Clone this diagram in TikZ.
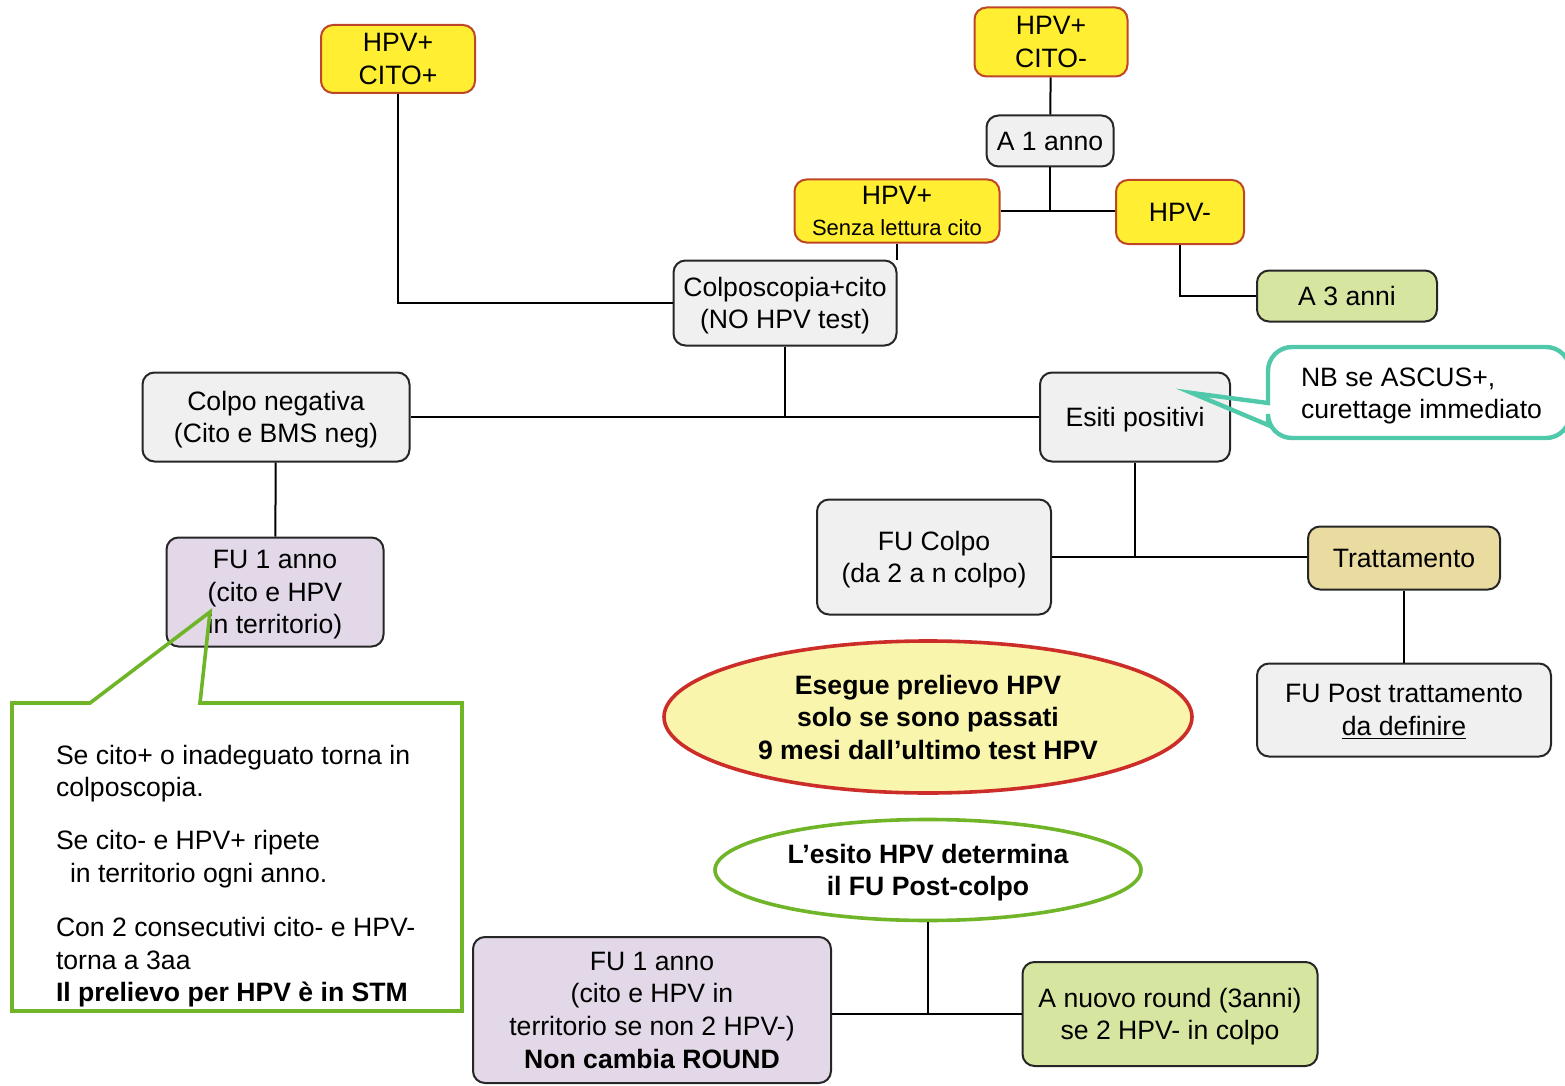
\documentclass[tikz,border=0pt]{standalone}
\usepackage{fontspec}
\setmainfont{Liberation Sans}
\usetikzlibrary{shapes.geometric}
\definecolor{hpvyellow}{RGB}{255,238,50}
\definecolor{hpvedge}{RGB}{190,70,40}
\definecolor{boxgray}{RGB}{240,240,240}
\definecolor{boxlilac}{RGB}{226,216,232}
\definecolor{boxgreen}{RGB}{214,230,160}
\definecolor{boxtan}{RGB}{234,220,160}
\definecolor{ovalfill}{RGB}{250,245,172}
\definecolor{ovalred}{RGB}{205,45,40}
\definecolor{notegreen}{RGB}{112,180,40}
\definecolor{noteteal}{RGB}{80,200,170}
\newcommand{\flowfont}{\fontsize{13.3}{16.3}\selectfont}
\newcommand{\linestrut}{\rule[-0.212em]{0pt}{1.117em}}

\begin{document}
\begin{tikzpicture}[x=0.5pt, y=-0.5pt, line width=1pt,
  main node/.style={rectangle, rounded corners=6pt, draw=black!85, fill=boxgray, align=center, inner sep=0pt, font=\flowfont,
    execute at begin node=\linestrut, execute at end node=\linestrut},
  hpv node/.style={main node, fill=hpvyellow, draw=hpvedge},
  lilac node/.style={main node, fill=boxlilac},
  green node/.style={main node, fill=boxgreen},
  tan node/.style={main node, fill=boxtan},
  oval node/.style={ellipse, align=center, inner sep=0pt, line width=1.8pt, font=\flowfont\bfseries,
    execute at begin node=\linestrut, execute at end node=\linestrut},
  text down/.style={text depth=#1},
  text down/.default=-1.7pt]
\useasboundingbox (0,0) rectangle (1565,1086);
\begin{scope}
\node[hpv node, text down=-0.7pt, minimum width=77pt, minimum height=34pt] (cpos) at (398,59) {HPV+\\CITO+};
\node[hpv node, text down=-0.7pt, minimum width=76.5pt, minimum height=34.5pt] (cneg) at (1051,42) {HPV+\\CITO-};
\node[main node, minimum width=63.5pt, minimum height=25.5pt] (anno1) at (1050,141) {A 1 anno};
\node[hpv node, text down=-2.5pt, minimum width=102.5pt, minimum height=31.5pt] (senza) at (897,211) {HPV+\\[-1pt]{\fontsize{11}{14.5}\selectfont Senza lettura cito}};
\node[hpv node, minimum width=64pt, minimum height=32pt] (hneg) at (1180,212) {HPV-};
\node[green node, minimum width=90pt, minimum height=25.5pt] (anni3) at (1347,296) {A 3 anni};
\node[main node, text down=-2.5pt, minimum width=111.5pt, minimum height=42.5pt] (colpo) at (785,303) {Colposcopia+cito\\(NO HPV test)};
\node[main node, text down, minimum width=133.5pt, minimum height=44.5pt] (neg) at (276,417) {Colpo negativa\\(Cito e BMS neg)};
\node[main node, minimum width=95pt, minimum height=44.5pt] (esiti) at (1135,417) {Esiti positivi};
\node[lilac node, text down, minimum width=108.5pt, minimum height=54.5pt] (fu1) at (275,592) {FU 1 anno\\(cito e HPV\\in territorio)};
\node[main node, text down, minimum width=117pt, minimum height=57.5pt] (fucolpo) at (934,557) {FU Colpo\\(da 2 a n colpo)};
\node[tan node, minimum width=96pt, minimum height=31.5pt] (tratt) at (1404,558) {Trattamento};
\node[main node, text down, minimum width=147pt, minimum height=46.5pt] (fupost) at (1404,710) {FU Post trattamento\\\underline{da definire}};
\node[oval node, text down, draw=ovalred, fill=ovalfill, minimum width=264pt, minimum height=76pt] (prelievo) at (928,717) {Esegue prelievo HPV\\solo se sono passati\\9 mesi dall’ultimo test HPV};
\node[oval node, text down=-2.8pt, draw=notegreen, fill=white, minimum width=213pt, minimum height=50.5pt] (esito) at (928,870) {L’esito HPV determina\\il FU Post-colpo};
\node[lilac node, text down=-9pt, minimum width=179pt, minimum height=73pt] (fu1b) at (652,1010) {FU 1 anno\\(cito e HPV in\\territorio se non 2 HPV-)\\\textbf{Non cambia ROUND}};
\node[green node, text down=-0.2pt, minimum width=147.5pt, minimum height=52pt] (nuovo) at (1170,1014) {A nuovo round (3anni)\\se 2 HPV- in colpo};
\end{scope}
\begin{scope}
\draw (cpos.south) |- (colpo.west);
\draw (cneg) -- (anno1);
\draw (senza.east) -- (senza.east -| hneg.west);
\draw (anno1.south) -- (anno1.south |- senza.east);
\draw (senza.south) -- (senza.south |- colpo.north);
\draw (hneg.south) |- (anni3.west);
\draw (neg.east) -- (esiti.west);
\draw (colpo.south) -- (colpo.south |- neg.east);
\draw (neg) -- (fu1);
\draw (fucolpo.east) -- (fucolpo.east -| tratt.west);
\draw (esiti.south) -- (esiti.south |- fucolpo.east);
\draw (tratt) -- (fupost);
\draw (fu1b.east |- nuovo.west) -- (nuovo.west);
\draw (esito.south) -- (esito.south |- nuovo.west);
\end{scope}
% notes
\coordinate (greentip) at (210,612);
\draw[notegreen, line width=1.8pt] (12,703) -- (90,703) -- (greentip) -- (200,703) -- (462,703) -- (462,1011) -- (12,1011) -- cycle;
\node[anchor=north west, align=left, inner sep=0pt, font=\flowfont] (notetext) at (55,744) {Se cito+ o inadeguato torna in\\colposcopia.\\[10pt]Se cito- e HPV+ ripete\\\hspace*{7pt}in territorio ogni anno.\\[11pt]Con 2 consecutivi cito- e HPV-\\torna a 3aa\\\textbf{Il prelievo per HPV è in STM}};
\coordinate (nbtip) at (1192,393);
\draw[noteteal, line width=2.2pt] (1268,403) -- (nbtip) -- (1268,425) [rounded corners=12pt] -- (1268,438) -- (1570,438) -- (1570,347) -- (1268,347) [sharp corners] -- cycle;
\node[anchor=west, align=left, inner sep=0pt, font=\flowfont] (nbtext) at (1300,396) {NB se ASCUS+,\\curettage immediato};
\end{tikzpicture}
\end{document}
